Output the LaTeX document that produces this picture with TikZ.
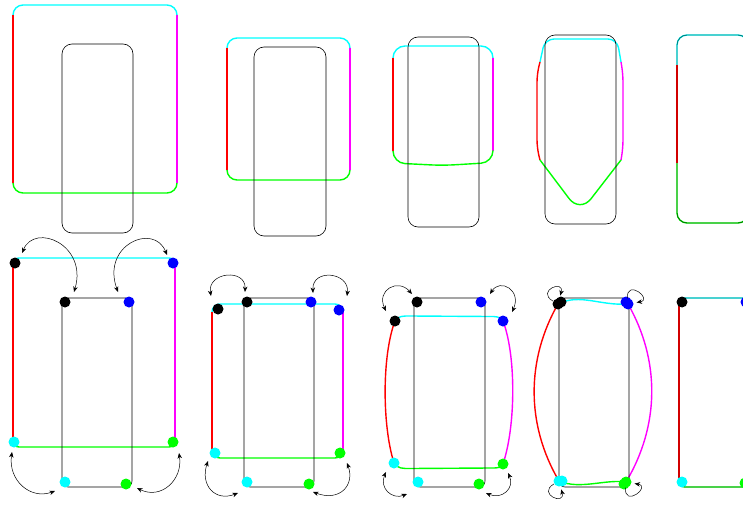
\documentclass[tikz,border=0pt]{standalone}
\usetikzlibrary{arrows.meta}
\definecolor{cyan}{RGB}{0,255,255}
\definecolor{magenta}{RGB}{255,0,255}
\definecolor{green}{RGB}{0,255,0}
\definecolor{red}{RGB}{255,0,0}
\definecolor{blue}{RGB}{0,0,255}
\tikzset{
  col/.style={line width=1.4pt},
  blk/.style={line width=0.6pt, draw=black},
  blkfade/.style={line width=0.9pt, draw=black, draw opacity=0.5},
  dot/.style={circle, fill=#1, inner sep=0pt, minimum size=11pt},
  darr/.style={{Stealth[length=5.5pt,width=4.5pt]}-{Stealth[length=5.5pt,width=4.5pt]}, line width=0.5pt},
  sarr/.style={-{Stealth[length=5.5pt,width=4.5pt]}, line width=0.5pt, shorten >=3pt},
}
\newcommand{\colframe}[5]{%
  \draw[col,cyan,rounded corners=#5pt] (#1,-#3-#5) -- (#1,-#3) -- (#2,-#3) -- (#2,-#3-#5);
  \draw[col,red] (#1,-#3-#5) -- (#1,-#4+#5);
  \draw[col,magenta] (#2,-#3-#5) -- (#2,-#4+#5);
  \draw[col,green,rounded corners=#5pt] (#1,-#4+#5) -- (#1,-#4) -- (#2,-#4) -- (#2,-#4+#5);
}
\newcommand{\blkframe}[5]{\draw[blk,rounded corners=#5pt] (#1,-#3) rectangle (#2,-#4);}
\begin{document}
\begin{tikzpicture}[x=1pt,y=1pt]
\useasboundingbox (0,0) rectangle (743,-508);
\clip (0,0) rectangle (743,-508);
% ---------------- top row ----------------
% T1
\colframe{13}{177}{5}{193}{10}
\blkframe{62}{133}{44}{233}{10}
% T2
\colframe{227}{350}{38}{180}{10}
\blkframe{254}{326}{47}{236}{10}
% T3
\draw[col,cyan,rounded corners=12pt] (393,-58) -- (393,-46) -- (493,-46) -- (493,-58);
\draw[col,red] (393,-58) -- (393,-151);
\draw[col,magenta] (493,-58) -- (493,-151);
\draw[col,green,rounded corners=12pt] (393,-151) -- (393,-163) -- (443,-165.5) -- (493,-162.5) -- (493,-151);
\blkframe{408}{479}{37}{227}{10}
% T4
\draw[col,cyan,rounded corners=9pt] (540,-62) -- (545,-39) -- (617,-39) -- (621,-62);
\draw[col,red,rounded corners=8pt] (540,-62) -- (537,-74) -- (537,-148) -- (540,-160);
\draw[col,magenta,rounded corners=8pt] (621,-62) -- (623,-74) -- (623,-148) -- (621,-160);
\draw[col,green,rounded corners=18pt] (540,-160) -- (580,-213) -- (621,-160);
\blkframe{545}{616}{35}{224}{10}
% T5
\draw[col,cyan,rounded corners=10pt] (677,-65) -- (677,-35) -- (748,-35) -- (748,-65);
\draw[col,red] (677,-65) -- (677,-163);
\draw[col,magenta] (748,-65) -- (748,-163);
\draw[col,green,rounded corners=10pt] (677,-163) -- (677,-223) -- (748,-223) -- (748,-163);
\draw[blkfade,rounded corners=10pt] (677,-35) rectangle (748,-223);
% ---------------- bottom row ----------------
% B1
\colframe{13}{175}{258}{447}{6}
\blkframe{62}{132}{298}{487}{6}
\node[dot=black] (b1ok) at (15,-263) {};
\node[dot=blue]  (b1ob) at (173,-263) {};
\node[dot=cyan]  (b1oc) at (14,-442) {};
\node[dot=green] (b1og) at (173,-442) {};
\node[dot=black] (b1ik) at (65,-302) {};
\node[dot=blue]  (b1ib) at (129,-302) {};
\node[dot=cyan]  (b1ic) at (65,-482) {};
\node[dot=green] (b1ig) at (126,-484) {};
\draw[darr] ([shift={(7,10)}]b1ok.center) .. controls (35,-222) and (88,-245) .. ([shift={(9,10)}]b1ik.center);
\draw[darr] ([shift={(-6,8)}]b1ob.center) .. controls (154,-222) and (101,-245) .. ([shift={(-11,10)}]b1ib.center);
\draw[darr] ([shift={(-2,-10)}]b1oc.center) .. controls (8,-480) and (30,-500) .. ([shift={(-10,-9)}]b1ic.center);
\draw[darr] ([shift={(6,-11)}]b1og.center) .. controls (183,-480) and (161,-500) .. ([shift={(11,-4)}]b1ig.center);
% B2
\colframe{212}{343}{304}{458}{8}
\blkframe{244}{314}{298}{487}{6}
\node[dot=black] (b2ok) at (218,-309) {};
\node[dot=blue]  (b2ob) at (339,-310) {};
\node[dot=cyan]  (b2oc) at (215,-453) {};
\node[dot=green] (b2og) at (340,-453) {};
\node[dot=black] (b2ik) at (247,-302) {};
\node[dot=blue]  (b2ib) at (311,-302) {};
\node[dot=cyan]  (b2ic) at (247,-482) {};
\node[dot=green] (b2ig) at (309,-484) {};
\draw[darr] ([shift={(-7,13)}]b2ok.center) .. controls (207,-272) and (246,-268) .. ([shift={(-2,10)}]b2ik.center);
\draw[darr] ([shift={(2,9)}]b2ib.center) .. controls (312,-268) and (350,-272) .. ([shift={(8,14)}]b2ob.center);
\draw[darr] ([shift={(-7,-8)}]b2oc.center) .. controls (200,-485) and (215,-502) .. ([shift={(-9,-11)}]b2ic.center);
\draw[darr] ([shift={(7,-10)}]b2og.center) .. controls (355,-485) and (340,-502) .. ([shift={(4,-8)}]b2ig.center);
% B3
\draw[col,cyan] (395,-321) to[out=60,in=180] (410,-316) -- (490,-316.5) to[out=0,in=120] (503,-321);
\draw[col,red] (395,-321) .. controls (382,-355) and (382,-425) .. (394,-463);
\draw[col,magenta] (503,-321) .. controls (516,-355) and (516,-425) .. (503,-464);
\draw[col,green] (394,-463) to[out=-60,in=180] (410,-468.5) -- (490,-468) to[out=0,in=-120] (503,-464);
\blkframe{414}{485}{298}{487}{6}
\node[dot=black] (b3ok) at (395,-321) {};
\node[dot=blue]  (b3ob) at (503,-321) {};
\node[dot=cyan]  (b3oc) at (394,-463) {};
\node[dot=green] (b3og) at (503,-464) {};
\node[dot=black] (b3ik) at (417,-302) {};
\node[dot=blue]  (b3ib) at (481,-302) {};
\node[dot=cyan]  (b3ic) at (418,-482) {};
\node[dot=green] (b3ig) at (479,-484) {};
\draw[darr] ([shift={(-9,10)}]b3ok.center) .. controls (376,-290) and (398,-278) .. ([shift={(-5,8)}]b3ik.center);
\draw[darr] ([shift={(9,9)}]b3ob.center) .. controls (522,-290) and (500,-278) .. ([shift={(9,8)}]b3ib.center);
\draw[darr] ([shift={(-8,-9)}]b3oc.center) .. controls (379,-488) and (392,-500) .. ([shift={(-11,-12)}]b3ic.center);
\draw[darr] ([shift={(5,-9)}]b3og.center) .. controls (515,-488) and (502,-500) .. ([shift={(7,-9)}]b3ig.center);
% B4
\draw[col,red] (558,-304) .. controls (526,-360) and (526,-425) .. (559,-481);
\draw[col,magenta] (628,-304) .. controls (660,-360) and (660,-425) .. (626,-482);
\blkframe{559}{629}{298}{487}{6}
\draw[col,cyan] (558,-304) .. controls (580,-293) and (600,-306) .. (628,-304);
\draw[col,green] (559,-481) .. controls (580,-490) and (605,-479) .. (626,-482);
\node[dot=black] (b4ik) at (561,-302) {};
\node[dot=blue]  (b4ib) at (626,-302) {};
\node[dot=cyan]  (b4ic) at (562,-481) {};
\node[dot=green] (b4ig) at (624,-484) {};
\node[dot=black] (b4ok) at (558,-304) {};
\node[dot=blue]  (b4ob) at (628,-304) {};
\node[dot=cyan]  (b4oc) at (559,-481) {};
\node[dot=green] (b4og) at (626,-482) {};
\draw[sarr] (b4ok) .. controls +(150:26) and +(75:26) .. (b4ok);
\draw[sarr] (b4ob) .. controls +(95:26) and +(10:26) .. (b4ob);
\draw[sarr] (b4oc) .. controls +(210:26) and +(-75:26) .. (b4oc);
\draw[sarr] (b4og) .. controls +(-95:26) and +(-10:26) .. (b4og);
% B5
\draw[col,cyan,rounded corners=6pt] (679,-304) -- (679,-298) -- (749,-298) -- (749,-304);
\draw[col,red] (679,-304) -- (679,-481);
\draw[col,magenta] (749,-304) -- (749,-481);
\draw[col,green,rounded corners=6pt] (679,-481) -- (679,-487) -- (749,-487) -- (749,-481);
\draw[blkfade,rounded corners=6pt] (679,-298) rectangle (749,-487);
\node[dot=black] (b5k) at (682,-302) {};
\node[dot=blue]  (b5b) at (746,-302) {};
\node[dot=cyan]  (b5c) at (682,-482) {};
\node[dot=green] (b5g) at (745,-483) {};
\end{tikzpicture}
\end{document}
